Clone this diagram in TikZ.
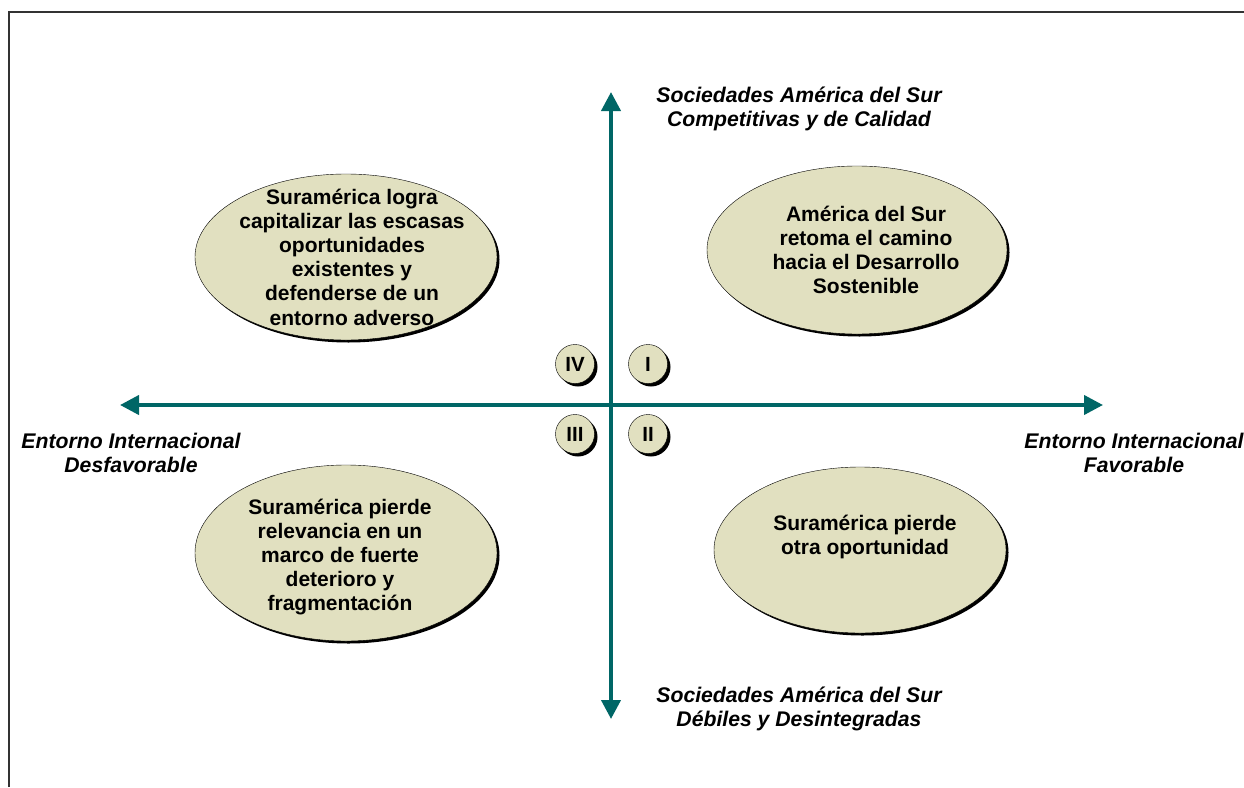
\documentclass[tikz,border=0pt]{standalone}
\usepackage{fontspec}
\setmainfont{Liberation Sans}
\usetikzlibrary{shapes.geometric}
\usetikzlibrary{arrows.meta}
\usetikzlibrary{shadows}
\usetikzlibrary{positioning}

\definecolor{axisteal}{RGB}{0,102,102}
\definecolor{scenefill}{RGB}{225,224,192}
\definecolor{framegray}{RGB}{50,50,50}

\begin{document}
\begin{tikzpicture}[
    x=1pt, y=-1pt,
    scenario/.style={ellipse, draw=black, thin, fill=scenefill,
        drop shadow={shadow xshift=2.5pt, shadow yshift=-2.5pt, opacity=1, fill=black}},
    scenetext/.style={align=center, font=\fontsize{21}{24.2}\selectfont\bfseries},
    quadrant/.style={circle, draw=black, thin, fill=scenefill, minimum size=39pt, inner sep=0pt,
        font=\fontsize{20.5}{22}\selectfont\bfseries,
        drop shadow={shadow xshift=3pt, shadow yshift=-3pt, opacity=1, fill=black}},
    axislabel/.style={align=center, font=\fontsize{21.2}{24}\selectfont\bfseries\itshape},
    axis/.style={draw=axisteal, line width=4pt, {Triangle[length=19pt,width=19pt]}-{Triangle[length=19pt,width=19pt]}}
]
    \useasboundingbox (0,0) rectangle (1244,787);
    % Frame
    \draw [framegray, line width=2pt] (9,787) -- (9,12) -- (1244,12);

    % Axes
    % - ends of the two axes
    \coordinate (west) at (120,405);
    \coordinate (east) at (1103,405);
    \coordinate (north) at (611,92);
    \coordinate (south) at (611,719);
    \draw [axis] (west) -- (east);
    \draw [axis] (north) -- (south);
    % - axis labels
    \node at (799,109) [axislabel] (north_lbl) {Sociedades Am\'erica del Sur\\Competitivas y de Calidad};
    \node at (799,709) [axislabel] (south_lbl) {Sociedades Am\'erica del Sur\\D\'ebiles y Desintegradas};
    \node at (131,453) [axislabel] (west_lbl) {Entorno Internacional\\Desfavorable};
    \node at (1134,453) [axislabel] (east_lbl) {Entorno Internacional\\Favorable};

    % Scenarios
    % - [Quadrant IV]
    \node at (346,257) [scenario, minimum width=302pt, minimum height=166pt] (scen_IV) {};
    \node at (352,257) [scenetext] {Suram\'erica logra\\capitalizar las escasas\\oportunidades\\existentes y\\defenderse de un\\entorno adverso};
    % - [Quadrant I]
    \node at (857,250) [scenario, minimum width=300pt, minimum height=168pt] (scen_I) {};
    \node at (866,250) [scenetext] {Am\'erica del Sur\\retoma el camino\\hacia el Desarrollo\\Sostenible};
    % - [Quadrant III]
    \node at (346,553) [scenario, minimum width=302pt, minimum height=176pt] (scen_III) {};
    \node at (340,557) [scenetext] {Suram\'erica pierde\\relevancia en un\\marco de fuerte\\deterioro y\\fragmentaci\'on};
    % - [Quadrant II]
    \node at (860,550) [scenario, minimum width=292pt, minimum height=166pt] (scen_II) {};
    \node at (865,537) [scenetext] {Suram\'erica pierde\\otra oportunidad};

    % Quadrant numbers
    \node at (575,364) [quadrant] (num_IV) {IV};
    \node at (648,364) [quadrant] (num_I) {I};
    \node at (575,434) [quadrant] (num_III) {III};
    \node at (648,434) [quadrant] (num_II) {II};
\end{tikzpicture}
\end{document}
